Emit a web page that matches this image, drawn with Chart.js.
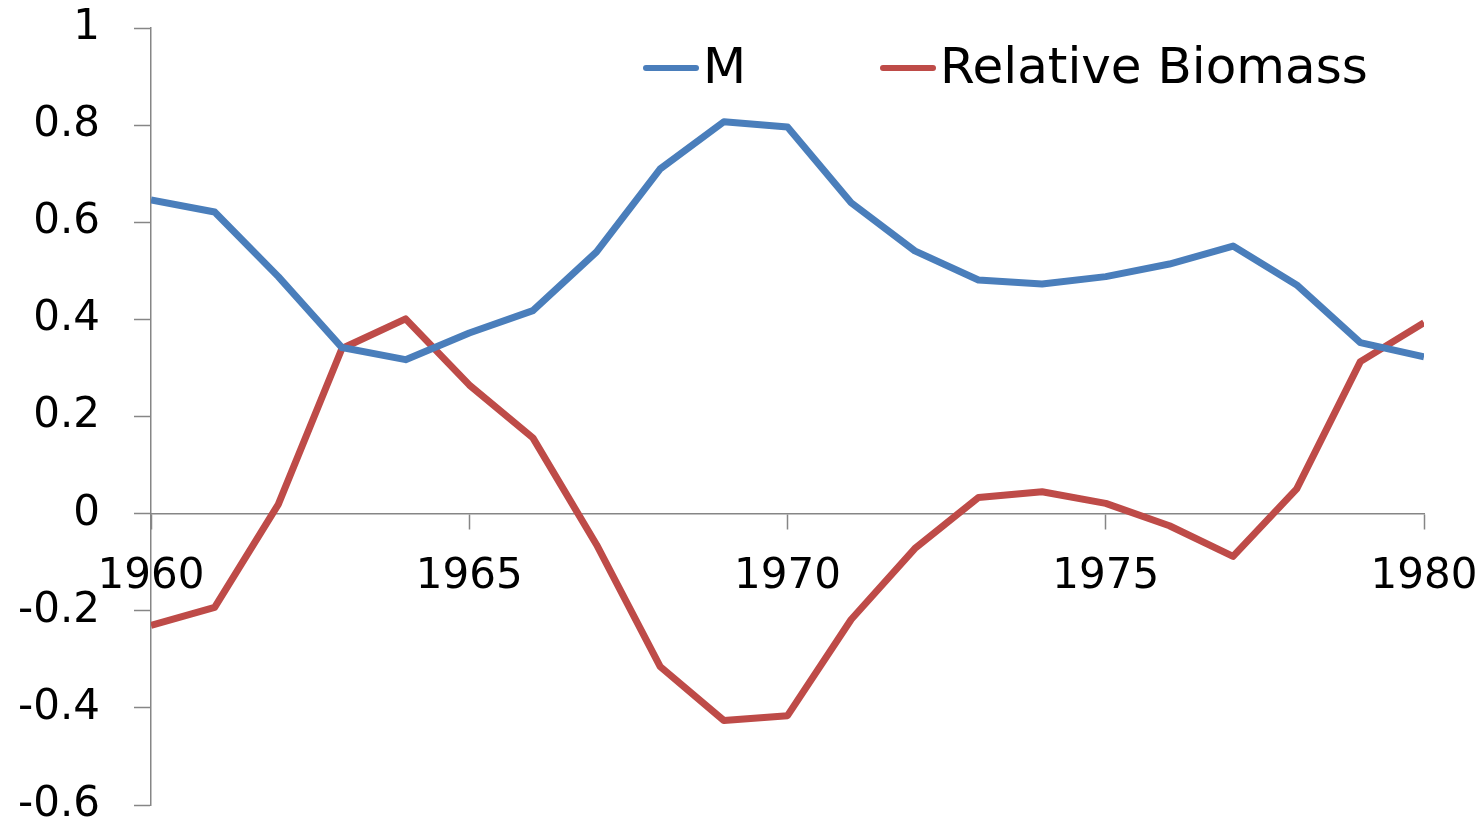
<!DOCTYPE html>
<html>
<head>
<meta charset="utf-8">
<script src="https://cdn.jsdelivr.net/npm/chart.js@4/dist/chart.umd.min.js"></script>
<style>
html,body{margin:0;padding:0;background:#fff;}
#wrap{width:1481px;height:825px;position:relative;}
</style>
</head>
<body>
<div id="wrap"><canvas id="c" width="1481" height="825"></canvas></div>
<script>
const years = [1960,1961,1962,1963,1964,1965,1966,1967,1968,1969,1970,1971,1972,1973,1974,1975,1976,1977,1978,1979,1980];
const mValues = [0.646,0.621,0.488,0.342,0.317,0.372,0.418,0.539,0.710,0.807,0.796,0.640,0.541,0.481,0.473,0.488,0.514,0.551,0.471,0.352,0.323];
const biomassValues = [-0.230,-0.193,0.019,0.340,0.401,0.265,0.156,-0.064,-0.315,-0.426,-0.416,-0.218,-0.072,0.033,0.045,0.021,-0.025,-0.088,0.051,0.313,0.393];
const seriesNames = ['M','Relative Biomass'];
const yTicks = [-0.6,-0.4,-0.2,0,0.2,0.4,0.6,0.8,1];
const xTicks = [1960,1965,1970,1975,1980];

const BLUE = '#4A7EBB', RED = '#BE4B48', AXIS = '#868686';
const FONT = "'DejaVu Sans', sans-serif";

const legendPlugin = {
  id: 'manualLegend',
  afterDraw(chart) {
    const ctx = chart.ctx;
    const items = [
      {x: 646, textX: 703, ds: chart.data.datasets[0]},
      {x: 883, textX: 940, ds: chart.data.datasets[1]}
    ];
    ctx.save();
    ctx.font = "50px " + FONT;
    ctx.textBaseline = 'middle';
    ctx.fillStyle = '#000';
    items.forEach(it => {
      ctx.strokeStyle = it.ds.borderColor;
      ctx.lineWidth = 6;
      ctx.lineCap = 'round';
      ctx.beginPath();
      ctx.moveTo(it.x, 68);
      ctx.lineTo(it.x + 50, 68);
      ctx.stroke();
      ctx.fillText(it.ds.label, it.textX, 70);
    });
    ctx.restore();
  }
};

new Chart(document.getElementById('c'), {
  type: 'line',
  data: {
    datasets: [
      {label: seriesNames[0], data: years.map((y,i)=>({x:y, y:mValues[i]})), borderColor: BLUE, backgroundColor: BLUE, borderWidth: 7, pointRadius: 0, tension: 0, borderJoinStyle: 'round'},
      {label: seriesNames[1], data: years.map((y,i)=>({x:y, y:biomassValues[i]})), borderColor: RED, backgroundColor: RED, borderWidth: 7, pointRadius: 0, tension: 0, borderJoinStyle: 'round'}
    ]
  },
  options: {
    responsive: false,
    animation: false,
    devicePixelRatio: 1,
    layout: {padding: {left: 0, right: 57, top: 28, bottom: 20}},
    plugins: {legend: {display: false}, tooltip: {enabled: false}},
    scales: {
      x: {
        type: 'linear',
        position: {y: 0},
        min: 1960, max: 1980,
        afterBuildTicks: (s) => { s.ticks = xTicks.map(v => ({value: v})); },
        afterFit: (s) => { s.paddingLeft = 0; s.paddingRight = 0; s.paddingTop = 0; s.paddingBottom = 0; },
        ticks: {font: {family: FONT, size: 42}, color: '#000', padding: 23, maxRotation: 0, autoSkip: false, callback: (v) => String(v)},
        grid: {drawOnChartArea: false, drawTicks: true, tickLength: 15, color: AXIS, tickWidth: 1.5},
        border: {color: AXIS, width: 1.5}
      },
      y: {
        type: 'linear',
        min: -0.6, max: 1,
        afterBuildTicks: (s) => { s.ticks = yTicks.map(v => ({value: v})); },
        afterFit: (s) => { s.width = 151; s.paddingTop = 0; s.paddingBottom = 0; },
        ticks: {font: {family: FONT, size: 42}, color: '#000', padding: 34, callback: (v) => String(Math.round(v*10)/10)},
        grid: {drawOnChartArea: false, drawTicks: true, tickLength: 17, color: AXIS, tickWidth: 1.5},
        border: {color: AXIS, width: 1.5}
      }
    }
  },
  plugins: [legendPlugin]
});
</script>
</body>
</html>
